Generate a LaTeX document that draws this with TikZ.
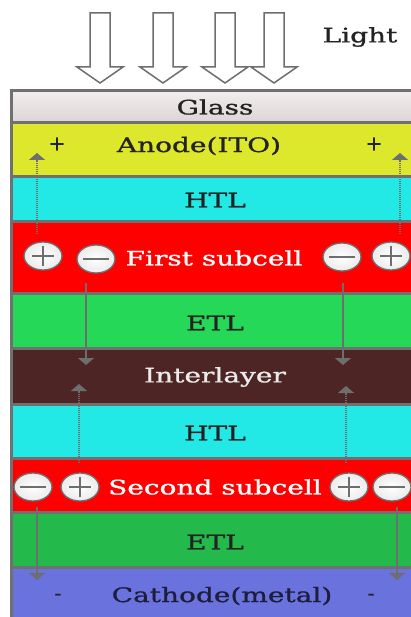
\documentclass[tikz,border=0pt]{standalone}
\usepackage{fontspec}
\usepackage{graphicx}
\setmainfont{DejaVu Serif}
\newfontfamily\lblfont{DejaVu Serif}[FakeBold=0.9]
\usetikzlibrary{arrows.meta,shapes.geometric}
\definecolor{glassA}{RGB}{242,238,238}
\definecolor{glassB}{RGB}{220,212,212}
\definecolor{anodec}{RGB}{221,232,44}
\definecolor{htlc}{RGB}{34,233,230}
\definecolor{redc}{RGB}{255,0,0}
\definecolor{etlA}{RGB}{38,216,88}
\definecolor{etlB}{RGB}{35,185,75}
\definecolor{interc}{RGB}{78,37,37}
\definecolor{cathc}{RGB}{106,114,222}
\definecolor{sepc}{RGB}{112,112,112}
\definecolor{arrc}{RGB}{110,110,110}
\definecolor{darktxt}{RGB}{35,35,35}
\definecolor{cathtxt}{RGB}{30,30,60}
\newcommand\wide[1]{\scalebox{1.4}[1]{#1}}
\begin{document}
\begin{tikzpicture}[x=1pt,y=-1pt,
  lbl/.style={font=\lblfont\fontsize{20}{20}\selectfont, inner sep=0pt, text=darktxt},
  wlbl/.style={lbl, text=white},
  sep/.style={draw=sepc, line width=3pt},
  light/.style={draw=arrc, line width=1.5pt, fill=white, line join=miter},
  charge/.style={ellipse, draw=arrc, line width=1.3pt, inner color=white, outer color=black!8, minimum width=38pt, minimum height=28pt, inner sep=0pt},
  sign/.style={draw=arrc, line width=1.5pt},
  solidarr/.style={draw=arrc, line width=1.5pt, -{Triangle[width=16pt,length=7pt]}},
  dotarr/.style={draw=arrc, line width=1.2pt, dash pattern=on 1pt off 1pt, -{Triangle[width=16pt,length=7pt]}}
]
\useasboundingbox (0,0) rectangle (411,617);
\fill[white] (0,0) rectangle (411,617);

% layers
\shade[top color=glassA, bottom color=glassB] (12,91) rectangle (411,123);
\fill[anodec] (12,123) rectangle (411,177);
\fill[htlc] (12,177) rectangle (411,222);
\fill[redc] (12,222) rectangle (411,293);
\fill[etlA] (12,293) rectangle (411,348);
\fill[interc] (12,348) rectangle (411,404);
\fill[htlc] (12,404) rectangle (411,458);
\fill[redc] (12,458) rectangle (411,512);
\fill[etlB] (12,512) rectangle (411,567);
\fill[cathc] (12,567) rectangle (411,617);
\foreach \yy in {91,123,177,222,293,348,404,458,512,567}
  \draw[sep] (11,\yy) -- (411,\yy);
\draw[sep] (11.5,89.5) -- (11.5,617);

% light arrows
\foreach \cx in {100,163,225,274}
  \draw[light] (\cx-10,13) -- (\cx+10,13) -- (\cx+10,67) -- (\cx+23,67) -- (\cx,83) -- (\cx-23,67) -- (\cx-10,67) -- cycle;
\node[lbl] (light) at (360,37) {\wide{Light}};

% labels
\node[lbl] (glass) at (215,107) {\wide{Glass}};
\node[lbl] (anode) at (199,146) {\wide{Anode(ITO)}};
\node[lbl] (htl1) at (215,200) {\wide{HTL}};
\node[wlbl] (sub1) at (214,258) {\wide{First subcell}};
\node[lbl] (etl1) at (215,323) {\wide{ETL}};
\node[lbl, text=white!92!black] (inter) at (215,377) {\wide{Interlayer}};
\node[lbl] (htl2) at (215,433) {\wide{HTL}};
\node[wlbl] (sub2) at (215,487) {\wide{Second subcell}};
\node[lbl] (etl2) at (215,542) {\wide{ETL}};
\node[lbl, text=cathtxt] (cath) at (222,596) {\wide{Cathode(metal)}};

\node[lbl] (plusL) at (57,144) {+};
\node[lbl] (plusR) at (374,144) {+};
\node[lbl] (minL) at (58,597) {-};
\node[lbl] (minR) at (371,597) {-};

% charges first subcell
\node[charge] (h1L) at (43,256) {};
\node[charge] (e1L) at (96,259) {};
\node[charge] (e1R) at (342,257) {};
\node[charge] (h1R) at (391,256) {};
% charges second subcell
\node[charge] (e2L) at (33,487) {};
\node[charge] (h2L) at (80,487) {};
\node[charge] (h2R) at (349,487) {};
\node[charge] (e2R) at (392,487) {};

\foreach \n in {h1L,h1R,h2L,h2R}{
  \draw[sign] ([xshift=-11pt]\n.center) -- ([xshift=11pt]\n.center);
  \draw[sign] ([yshift=-10pt]\n.center) -- ([yshift=10pt]\n.center);
}
\foreach \n in {e1L,e1R,e2L,e2R}
  \draw[sign] ([xshift=-13pt]\n.center) -- ([xshift=13pt]\n.center);

% charge transport arrows
\coordinate (a1s) at (37,234); \coordinate (a1e) at (37,153);
\coordinate (a2s) at (400,234); \coordinate (a2e) at (400,153);
\coordinate (b1s) at (86,283); \coordinate (b1e) at (86,365);
\coordinate (b2s) at (343,283); \coordinate (b2e) at (343,365);
\coordinate (c1s) at (79,463); \coordinate (c1e) at (79,384);
\coordinate (c2s) at (346,463); \coordinate (c2e) at (346,386);
\coordinate (d1s) at (37,507); \coordinate (d1e) at (37,580);
\coordinate (d2s) at (397,507); \coordinate (d2e) at (397,580);
\draw[dotarr] (a1s) -- (a1e);
\draw[dotarr] (a2s) -- (a2e);
\draw[solidarr] (b1s) -- (b1e);
\draw[solidarr] (b2s) -- (b2e);
\draw[dotarr] (c1s) -- (c1e);
\draw[dotarr] (c2s) -- (c2e);
\draw[solidarr] (d1s) -- (d1e);
\draw[solidarr] (d2s) -- (d2e);
\end{tikzpicture}
\end{document}
